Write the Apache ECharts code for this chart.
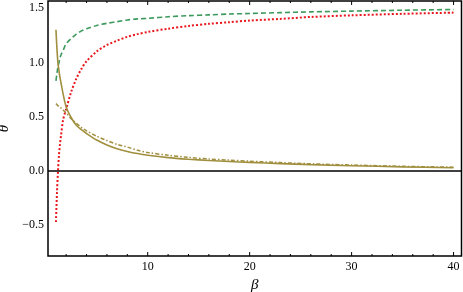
<!DOCTYPE html>
<html>
<head>
<meta charset="utf-8">
<script src="https://cdn.jsdelivr.net/npm/echarts@6/dist/echarts.min.js"></script>
<style>html,body{margin:0;padding:0;background:#fff;}#c{width:463px;height:292px;}</style>
</head>
<body>
<div id="c"></div>
<script>
var beta = [1, 1.1, 1.2, 1.3, 1.4, 1.5, 1.7, 2, 2.5, 3, 3.5, 4, 5, 6, 7, 8, 9, 10, 12, 14, 16, 18, 20, 23, 26, 30, 35, 40];
var greenDashed = [0.83, 0.90, 0.96, 1.00, 1.04, 1.07, 1.11, 1.17, 1.22, 1.26, 1.29, 1.31, 1.34, 1.36, 1.375, 1.39, 1.40, 1.405, 1.42, 1.43, 1.437, 1.445, 1.45, 1.458, 1.465, 1.472, 1.48, 1.487];
var redDotted = [-0.47, -0.2, 0.0, 0.15, 0.25, 0.33, 0.47, 0.57, 0.73, 0.85, 0.94, 1.01, 1.10, 1.16, 1.20, 1.235, 1.26, 1.28, 1.31, 1.335, 1.355, 1.37, 1.385, 1.40, 1.418, 1.433, 1.447, 1.458];
var oliveSolid = [1.30, 1.12, 0.99, 0.92, 0.86, 0.81, 0.71, 0.59, 0.49, 0.42, 0.38, 0.345, 0.285, 0.24, 0.205, 0.18, 0.16, 0.145, 0.123, 0.108, 0.096, 0.087, 0.079, 0.068, 0.058, 0.048, 0.038, 0.03];
var oliveDashDot = [0.62, 0.61, 0.60, 0.595, 0.585, 0.58, 0.56, 0.535, 0.48, 0.44, 0.40, 0.37, 0.32, 0.28, 0.245, 0.22, 0.19, 0.17, 0.145, 0.125, 0.11, 0.10, 0.09, 0.077, 0.066, 0.055, 0.043, 0.035];
var xMajorStep = 10, xMinorStep = 2;
var yMajorStep = 0.5, yMinorStep = 0.1;

function pairs(ys) { return beta.map(function (b, i) { return [b, ys[i]]; }); }

var XMIN = 0.22, XMAX = 40.78, YMIN = -0.783, YMAX = 1.565;
var font = 'Liberation Serif';
var olive = '#a08f3e';

function onStep(v, step) { return Math.abs(v / step - Math.round(v / step)) < 1e-6; }

// tick items for the frame: [value, which axis (0 = x, 1 = y, 2 = frame), major flag]
var frameItems = [[XMIN, 2, 0]];
var i, v;
for (i = Math.ceil(XMIN / xMinorStep); i * xMinorStep < XMAX; i++) {
  v = Math.round(i * xMinorStep * 1000) / 1000;
  frameItems.push([v, 0, onStep(v, xMajorStep) ? 1 : 0]);
}
for (i = Math.ceil(YMIN / yMinorStep); i * yMinorStep < YMAX; i++) {
  v = Math.round(i * yMinorStep * 1000) / 1000;
  frameItems.push([XMIN, 1, onStep(v, yMajorStep) ? 1 : 0, v]);
}

function renderFrame(params, api) {
  var kind = api.value(1);
  var st = { stroke: '#000', lineWidth: 1, fill: null };
  if (kind === 2) {
    var p0 = api.coord([XMIN, YMAX]), p1 = api.coord([XMAX, YMIN]);
    return { type: 'rect', silent: true, z2: 100,
      shape: { x: p0[0], y: p0[1], width: p1[0] - p0[0], height: p1[1] - p0[1] },
      style: { stroke: '#000', lineWidth: 1.5, fill: null } };
  }
  var len = api.value(2) ? 4 : 2;
  if (kind === 0) {
    var xv = api.value(0);
    var b = api.coord([xv, YMIN]), t = api.coord([xv, YMAX]);
    return { type: 'group', silent: true, children: [
      { type: 'line', shape: { x1: b[0], y1: b[1], x2: b[0], y2: b[1] - len }, style: st },
      { type: 'line', shape: { x1: t[0], y1: t[1], x2: t[0], y2: t[1] + len }, style: st }
    ] };
  }
  var yv = api.value(3);
  var l = api.coord([XMIN, yv]), r = api.coord([XMAX, yv]);
  return { type: 'group', silent: true, children: [
    { type: 'line', shape: { x1: l[0], y1: l[1], x2: l[0] + len, y2: l[1] }, style: st },
    { type: 'line', shape: { x1: r[0], y1: r[1], x2: r[0] - len, y2: r[1] }, style: st }
  ] };
}

var chart = echarts.init(document.getElementById('c'), null, { renderer: 'canvas' });
chart.setOption({
  animation: false,
  backgroundColor: '#fff',
  grid: { left: 48, right: 1.5, top: 1, bottom: 36, containLabel: false, outerBoundsMode: 'none' },
  xAxis: {
    type: 'value', min: XMIN, max: XMAX, splitNumber: Math.round((XMAX - XMIN) / xMajorStep),
    splitLine: { show: false }, axisLine: { show: false }, axisTick: { show: false },
    axisLabel: { show: true, margin: 5, color: '#000', fontFamily: font, fontSize: 12, showMinLabel: false, showMaxLabel: false,
      formatter: function (v) { return onStep(v, xMajorStep) ? String(Math.round(v)) : ''; } },
    name: 'β', nameLocation: 'middle', nameGap: 19,
    nameTextStyle: { fontFamily: font, fontStyle: 'italic', fontSize: 15, color: '#000' }
  },
  yAxis: {
    type: 'value', min: YMIN, max: YMAX, splitNumber: Math.round((YMAX - YMIN) / yMajorStep),
    splitLine: { show: false }, axisLine: { show: false }, axisTick: { show: false },
    axisLabel: { show: true, margin: 4, color: '#000', fontFamily: font, fontSize: 12, showMinLabel: false, showMaxLabel: false,
      formatter: function (v) { return onStep(v, yMajorStep) ? v.toFixed(1).replace('-', '\u2212') : ''; } },
    name: 'θ', nameLocation: 'middle', nameRotate: 90, nameGap: 36,
    nameTextStyle: { fontFamily: font, fontStyle: 'italic', fontSize: 15, color: '#000' }
  },
  series: [
    { type: 'line', data: pairs(greenDashed), smooth: 0.3, showSymbol: false, symbol: 'none',
      lineStyle: { color: '#3d9a5c', width: 1.6, type: [5, 3] },
      markLine: { silent: true, animation: false, symbol: 'none', label: { show: false }, data: [{ yAxis: 0 }],
        lineStyle: { color: '#000', width: 1.5, type: 'solid' } } },
    { type: 'line', data: pairs(redDotted), smooth: 0.3, showSymbol: false, symbol: 'none',
      lineStyle: { color: '#e8181e', width: 2, type: [2, 2] } },
    { type: 'line', data: pairs(oliveSolid), smooth: 0.3, showSymbol: false, symbol: 'none',
      lineStyle: { color: olive, width: 1.6, type: 'solid' } },
    { type: 'line', data: pairs(oliveDashDot), smooth: 0.3, showSymbol: false, symbol: 'none',
      lineStyle: { color: olive, width: 1.5, type: [4, 2, 1.5, 2] } },
    { type: 'custom', data: frameItems, renderItem: renderFrame, clip: false, silent: true, z: 10,
      encode: { x: 0, y: 1 } }
  ]
});
</script>
</body>
</html>
